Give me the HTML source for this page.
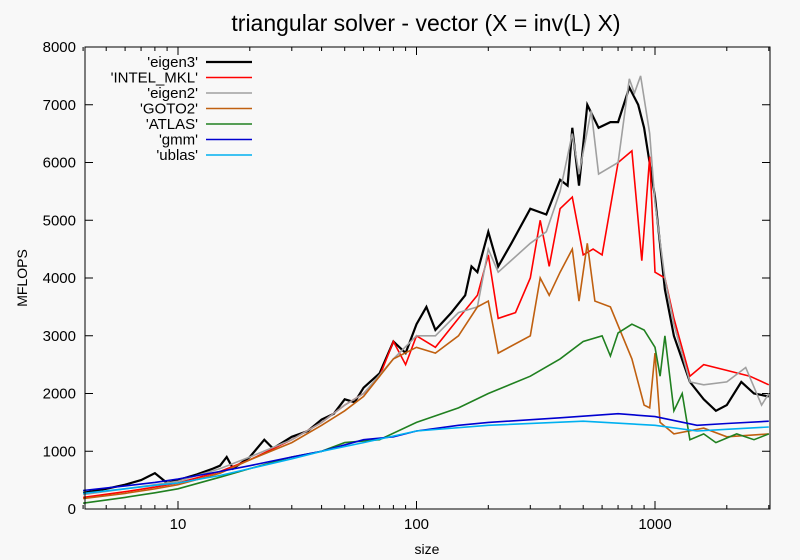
<!DOCTYPE html><html><head><style>body{margin:0;background:#f8f8f8}svg{display:block;font-family:"Liberation Sans",sans-serif}</style></head><body>
<svg id="s" width="800" height="560" xmlns="http://www.w3.org/2000/svg">
<rect width="800" height="560" fill="#f8f8f8"/>
<text x="426" y="31" font-size="23" text-anchor="middle">triangular solver - vector (X = inv(L) X)</text>
<text x="27" y="278" font-size="14" text-anchor="middle" transform="rotate(-90 27 278)">MFLOPS</text>
<text x="427" y="554" font-size="14" text-anchor="middle">size</text>
<g id="ax" stroke="#000" stroke-width="1" fill="none"></g>
<g id="lab" font-size="15" text-anchor="end"></g>
<g id="ser" fill="none" stroke-width="1.5"></g>
<rect x="85" y="47" width="685" height="462" fill="none" stroke="#000"/>
</svg>
<script>
const X=s=>178+(Math.log10(s)-1)*238.5, Y=v=>509-v*0.05775;
const ax=document.getElementById('ax'),lab=document.getElementById('lab'),ser=document.getElementById('ser');
let h='',l='';
for(let v=0;v<=8000;v+=1000){const y=Y(v);h+=`<path d="M85 ${y}h8M770 ${y}h-8"/>`;l+=`<text x="76" y="${y+5}">${v}</text>`;}
for(let d=1;d<=1000;d*=10)for(let k=1;k<10;k++){const s=d*k;if(s<4||s>3000)continue;const x=X(s),L=k==1?8:4;h+=`<path d="M${x} 509v-${L}M${x} 47v${L}"/>`;if(k==1&&d>=10)l+=`<text x="${x}" y="529" text-anchor="middle">${s}</text>`;}
ax.innerHTML=h;lab.innerHTML=l;
const S={
'#000':[[4,280],[5,350],[6,420],[7,500],[8,620],[9,450],[10,500],[12,600],[14,700],[15,750],[16,900],[17,700],[20,900],[23,1200],[25,1050],[30,1250],[35,1350],[40,1550],[45,1650],[50,1900],[55,1850],[60,2100],[70,2350],[80,2900],[90,2700],[100,3200],[110,3500],[120,3100],[140,3400],[160,3700],[170,4200],[180,4100],[200,4800],[220,4200],[250,4600],[300,5200],[350,5100],[400,5700],[430,5600],[450,6600],[480,5600],[520,7000],[580,6600],[650,6700],[700,6700],[780,7300],[850,7000],[900,6600],[1000,5400],[1100,3800],[1200,3000],[1400,2200],[1600,1900],[1800,1700],[2000,1800],[2300,2200],[2600,2000],[3000,1950]],
'#ff0000':[[4,200],[6,300],[8,380],[10,450],[15,650],[20,850],[30,1200],[40,1500],[50,1800],[60,2000],[70,2300],[80,2900],[90,2500],[100,3000],[120,2800],[150,3300],[180,3700],[200,4400],[220,3300],[260,3400],[300,4000],[330,5000],[360,4200],[400,5200],[450,5400],[500,4400],[550,4500],[600,4400],[700,6000],[800,6200],[880,4300],[950,6100],[1000,4100],[1100,4000],[1200,3300],[1400,2300],[1600,2500],[2000,2400],[2500,2300],[3000,2150]],
'#a0a0a0':[[4,250],[6,350],[8,420],[10,480],[15,700],[20,900],[30,1200],[40,1500],[50,1800],[60,2000],[80,2600],[100,3000],[120,3000],[150,3400],[180,3500],[200,4500],[220,4100],[300,4600],[350,4800],[400,5500],[450,6500],[480,5800],[540,6900],[580,5800],[700,6000],[780,7450],[820,7200],[870,7500],[950,6500],[1000,5300],[1100,4000],[1200,3200],[1400,2200],[1600,2150],[2000,2200],[2400,2450],[2800,1800],[3000,2000]],
'#c06010':[[4,180],[6,270],[8,350],[10,420],[15,620],[20,850],[30,1150],[40,1450],[50,1700],[60,1950],[80,2600],[100,2800],[120,2700],[150,3000],[180,3500],[200,3600],[220,2700],[300,3000],[330,4000],[360,3700],[400,4100],[450,4500],[480,3600],[520,4600],[560,3600],[650,3500],[800,2600],[900,1800],[950,1750],[1000,2700],[1050,1500],[1200,1300],[1600,1400],[2000,1250],[3000,1300]],
'#208020':[[4,100],[6,200],[8,280],[10,350],[15,550],[20,700],[30,900],[40,1000],[50,1150],[70,1200],[100,1500],[150,1750],[200,2000],[300,2300],[400,2600],[500,2900],[600,3000],[650,2650],[700,3050],[800,3200],[900,3100],[1000,2800],[1050,2300],[1100,3000],[1200,1700],[1300,2000],[1400,1200],[1600,1300],[1800,1150],[2200,1300],[2600,1200],[3000,1300]],
'#0000d0':[[4,320],[6,400],[8,460],[10,520],[15,650],[20,750],[30,900],[40,1000],[60,1200],[80,1250],[100,1350],[150,1450],[200,1500],[400,1580],[700,1650],[1000,1600],[1500,1450],[2000,1480],[3000,1520]],
'#00b0f0':[[4,270],[6,350],[8,410],[10,450],[15,580],[20,700],[30,870],[40,1000],[60,1150],[100,1350],[200,1450],[500,1520],[1000,1450],[1500,1350],[2000,1380],[3000,1420]]};
const names=["'eigen3'","'INTEL_MKL'","'eigen2'","'GOTO2'","'ATLAS'","'gmm'","'ublas'"];
let o='',i=0;
for(const c in S){o+=`<polyline stroke="${c}" stroke-width="${c=='#000'?2.2:1.6}" points="${S[c].map(p=>X(p[0]).toFixed(1)+','+Y(p[1]).toFixed(1)).join(' ')}"/>`;
const y=62+i*15.5;o+=`<path stroke="${c}" stroke-width="${c=='#000'?2.2:1.6}" d="M206 ${y}H252"/><text x="198" y="${y+5}" font-size="15" text-anchor="end" fill="#000" stroke="none">${names[i]}</text>`;i++;}
ser.innerHTML=o;
</script></body></html>
